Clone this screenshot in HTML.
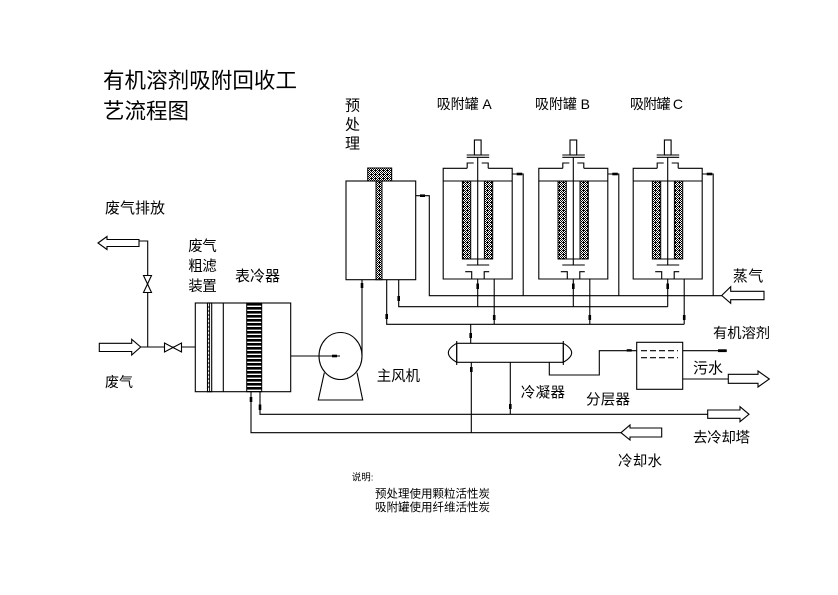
<!DOCTYPE html>
<html><head><meta charset="utf-8">
<style>
html,body{margin:0;padding:0;background:#fff;}
svg{display:block;}
text{font-family:"Liberation Sans","Noto Sans CJK SC",sans-serif;fill:#000;}
</style></head>
<body>
<svg width="838" height="595" viewBox="0 0 838 595" xmlns="http://www.w3.org/2000/svg">
<defs>
<pattern id="st" width="4" height="4" patternUnits="userSpaceOnUse">
<rect width="4" height="4" fill="#fff"/>
<rect x="0" y="0" width="1" height="1" fill="#000"/>
<rect x="2" y="0" width="1" height="1" fill="#000"/>
<rect x="1" y="1" width="1" height="1" fill="#000"/>
<rect x="3" y="1" width="1" height="1" fill="#000"/>
<rect x="0" y="2" width="1" height="1" fill="#000"/>
<rect x="2" y="2" width="2" height="1" fill="#000"/>
<rect x="1" y="3" width="1" height="1" fill="#000"/>
<rect x="3" y="3" width="1" height="1" fill="#000"/>
</pattern>
<pattern id="gr" width="4" height="4" y="303" patternUnits="userSpaceOnUse">
<rect width="4" height="2.6" fill="#000"/>
</pattern>
</defs>

<!-- Titles -->
<text x="103" y="88" font-size="21.5" textLength="194">有机溶剂吸附回收工</text>
<text x="103" y="118.5" font-size="21.5" textLength="86">艺流程图</text>

<text x="345" y="110.5" font-size="15">预</text>
<text x="345" y="129.5" font-size="15">处</text>
<text x="345" y="148.5" font-size="15">理</text>

<text x="436.7" y="109" font-size="14" textLength="55">吸附罐 A</text>
<text x="535" y="109" font-size="14" textLength="55">吸附罐 B</text>
<text x="630" y="109" font-size="14" textLength="53">吸附罐 C</text>

<text x="105" y="213" font-size="15" textLength="60">废气排放</text>
<text x="105" y="387" font-size="14" textLength="28">废气</text>
<text x="188.3" y="251" font-size="14.5" textLength="28.4">废气</text>
<text x="188.3" y="271" font-size="14.5" textLength="28.4">粗滤</text>
<text x="188.3" y="291" font-size="14.5" textLength="28.4">装置</text>
<text x="235" y="281" font-size="15" textLength="45">表冷器</text>
<text x="376.7" y="381" font-size="14.5" textLength="43.3">主风机</text>
<text x="520.7" y="397.5" font-size="14.5" textLength="44.3">冷凝器</text>
<text x="732.7" y="281" font-size="15" textLength="30.6">蒸气</text>
<text x="713" y="338" font-size="14.3" textLength="57">有机溶剂</text>
<text x="693" y="373" font-size="15" textLength="30">污水</text>
<text x="586" y="404.5" font-size="14.5" textLength="44">分层器</text>
<text x="693" y="442.5" font-size="14.5" textLength="57">去冷却塔</text>
<text x="618" y="466" font-size="14.5" textLength="44">冷却水</text>

<text x="351.7" y="480.5" font-size="9.5">说明:</text>
<text x="375" y="497.5" font-size="11.5" textLength="115">预处理使用颗粒活性炭</text>
<text x="375" y="511" font-size="11.5" textLength="115">吸附罐使用纤维活性炭</text>

<g fill="none" stroke="#000" stroke-width="1.1">
<!-- left side arrows -->
<polygon fill="#fff" points="98,243 107,236.5 107,239.5 139,239.5 139,246.5 107,246.5 107,249.5"/>
<polygon fill="#fff" points="99.3,343.3 131.7,343.3 131.7,339.3 140.7,347 131.7,355 131.7,351.5 99.3,351.5"/>
<!-- exhaust line + vertical valve -->
<path d="M139,241 H147.7 V347"/>
<polygon fill="#fff" points="143.5,275.5 151.5,275.5 147.5,284 151.5,292.5 143.5,292.5 147.5,284"/>
<!-- inlet line + horizontal valve -->
<path d="M140.7,347 H195.3"/>
<polygon fill="#fff" points="164.5,343 164.5,352 173,347.5 181.5,352 181.5,343 173,347.5"/>

<!-- filter + cooler box -->
<rect x="195.3" y="303" width="95.4" height="88.7" fill="#fff"/>
<path d="M223.3,303 V391.7"/>
<rect x="207.5" y="303" width="4.2" height="88.7"/>
</g>
<rect x="246.7" y="303" width="15" height="88.7" fill="url(#gr)" stroke="#000" stroke-width="1"/>
<g stroke="#000" stroke-width="0.9">
<path d="M207.5,307H209.6M207.5,311H209.6M207.5,315H209.6M207.5,319H209.6M207.5,323H209.6M207.5,327H209.6M207.5,331H209.6M207.5,335H209.6M207.5,339H209.6M207.5,343H209.6M207.5,347H209.6M207.5,351H209.6M207.5,355H209.6M207.5,359H209.6M207.5,363H209.6M207.5,367H209.6M207.5,371H209.6M207.5,375H209.6M207.5,379H209.6M207.5,383H209.6M207.5,387H209.6"/>
<path d="M209.6,303 V391.7"/>
</g>

<g fill="none" stroke="#000" stroke-width="1.1">
<!-- cooler outlets -->
<path d="M251,391.7 V432.7 H621"/>
<path d="M260,391.7 V414.3 H707.7"/>

<!-- fan -->
<ellipse cx="340.5" cy="356" rx="21.5" ry="23.5" fill="#fff"/>
<path d="M290.7,356 H340"/>
<path d="M324.3,372.7 L318.3,400 H362.7 L357,372.7"/>
<path d="M362,356 V279.7"/>

<!-- pretreatment -->
<rect x="346" y="181" width="69.7" height="98.7" fill="#fff"/>
</g>
<rect x="367.7" y="168" width="24" height="13" fill="url(#st)" stroke="#000" stroke-width="1"/>
<rect x="376" y="181" width="6" height="98.7" fill="url(#st)" stroke="#000" stroke-width="1"/>

<g fill="none" stroke="#000" stroke-width="1.1">
<path d="M415.7,195.7 H429.3 V295.7 H721.7"/>
<path d="M386.7,279.7 V324.3 H684.2"/>
<path d="M398.7,279.7 V306.7 H667.7"/>

<g transform="translate(477.7,0)">
<path d="M-10.5,168.3 H-34.5 V279 H34.5 V168.3 H10.5"/>
<path d="M-10.5,168.3 V163 H-4 M10.5,168.3 V163 H4"/>
<path d="M-34.5,181 H34.5"/>
<path d="M-11,155 H11.5 M-11,157.3 H11.5"/>
<rect x="-3.3" y="140" width="6.7" height="15" fill="#fff"/>
<path d="M0,157.3 V265"/>
<path d="M-15.3,259 H15"/>
<path d="M-11,265 H11.5"/>
<path d="M-12.5,271.7 H-6 V279 M11.5,271.7 H6.5 V279"/>
<path d="M34.5,174 H45.5 V295.7"/>
<path d="M0,279 V306.7"/>
<path d="M16.5,279 V324.3"/>
</g>
<g transform="translate(573.3,0)">
<path d="M-10.5,168.3 H-34.5 V279 H34.5 V168.3 H10.5"/>
<path d="M-10.5,168.3 V163 H-4 M10.5,168.3 V163 H4"/>
<path d="M-34.5,181 H34.5"/>
<path d="M-11,155 H11.5 M-11,157.3 H11.5"/>
<rect x="-3.3" y="140" width="6.7" height="15" fill="#fff"/>
<path d="M0,157.3 V265"/>
<path d="M-15.3,259 H15"/>
<path d="M-11,265 H11.5"/>
<path d="M-12.5,271.7 H-6 V279 M11.5,271.7 H6.5 V279"/>
<path d="M34.5,174 H45.5 V295.7"/>
<path d="M0,279 V306.7"/>
<path d="M16.5,279 V324.3"/>
</g>
<g transform="translate(667.7,0)">
<path d="M-10.5,168.3 H-34.5 V279 H34.5 V168.3 H10.5"/>
<path d="M-10.5,168.3 V163 H-4 M10.5,168.3 V163 H4"/>
<path d="M-34.5,181 H34.5"/>
<path d="M-11,155 H11.5 M-11,157.3 H11.5"/>
<rect x="-3.3" y="140" width="6.7" height="15" fill="#fff"/>
<path d="M0,157.3 V265"/>
<path d="M-15.3,259 H15"/>
<path d="M-11,265 H11.5"/>
<path d="M-12.5,271.7 H-6 V279 M11.5,271.7 H6.5 V279"/>
<path d="M34.5,174 H45.5 V295.7"/>
<path d="M0,279 V306.7"/>
<path d="M16.5,279 V324.3"/>
</g>
</g>

<!-- tank columns -->
<g fill="url(#st)" stroke="#000" stroke-width="1">
<rect x="462.4" y="181" width="8.3" height="78"/>
<rect x="484.4" y="181" width="8.3" height="78"/>
<rect x="558" y="181" width="8.3" height="78"/>
<rect x="580" y="181" width="8.3" height="78"/>
<rect x="652.4" y="181" width="8.3" height="78"/>
<rect x="674.4" y="181" width="8.3" height="78"/>
</g>

<g fill="none" stroke="#000" stroke-width="1.1">
<!-- steam arrow -->
<polygon fill="#fff" points="721.7,295.5 730.7,286.7 730.7,291.3 764,291.3 764,299.7 730.7,299.7 730.7,303.3"/>

<!-- condenser -->
<path d="M470.7,324.3 V343.3"/>
<rect x="456.7" y="343.3" width="106.6" height="19" fill="#fff"/>
<path d="M456.7,341 V365 M563.3,341 V365"/>
<path d="M456.7,343.3 Q440,352.8 456.7,362.3"/>
<path d="M563.3,343.3 Q580,352.8 563.3,362.3"/>
<path d="M471.3,362.3 V432.7"/>
<path d="M510.3,362.3 V414.3"/>
<path d="M549.3,362.3 V375 H599.3 V350.7 H636.7"/>

<!-- separator -->
<rect x="636.7" y="342.3" width="46" height="47" fill="#fff"/>
<path d="M641,350.7 H678 M641,357.7 H678" stroke-dasharray="6,3"/>
<path d="M682.7,350.7 H726.7"/>
<path d="M682.7,379 H728.3"/>
<polygon fill="#fff" points="728.3,374.3 758,374.3 758,371 769.3,379 758,387 758,383.3 728.3,383.3"/>
<polygon fill="#fff" points="707.7,410 740,410 740,406.7 749,414.3 740,421.7 740,418.3 707.7,418.3"/>
<polygon fill="#fff" points="621,432.7 630,425 630,428 661.7,428 661.7,437 630,437 630,440"/>
</g>

<!-- line markers -->
<g fill="#000">
<rect x="332" y="354.7" width="5" height="2.6"/>
<rect x="360.7" y="283" width="2.6" height="5"/>
<rect x="420" y="194.4" width="5" height="2.6"/>
<rect x="385.4" y="314" width="2.6" height="5"/>
<rect x="397.4" y="296" width="2.6" height="5"/>
<rect x="476.4" y="283.5" width="2.6" height="5.5"/>
<rect x="492.9" y="315" width="2.6" height="5"/>
<rect x="572" y="283.5" width="2.6" height="5.5"/>
<rect x="588.5" y="315" width="2.6" height="5"/>
<rect x="666.4" y="283.5" width="2.6" height="5.5"/>
<rect x="682.9" y="315" width="2.6" height="5"/>
<rect x="516.7" y="172.7" width="5.5" height="2.6"/>
<rect x="612.3" y="172.7" width="5.5" height="2.6"/>
<rect x="706.7" y="172.7" width="5.5" height="2.6"/>
<rect x="469.4" y="333" width="2.6" height="5"/>
<rect x="470" y="367" width="2.6" height="5"/>
<rect x="509" y="404" width="2.6" height="5"/>
<rect x="249.7" y="397" width="2.6" height="5"/>
<rect x="258.7" y="404.5" width="2.6" height="5.5"/>
<rect x="626.7" y="349.2" width="5" height="2.4"/>
<rect x="718" y="349.3" width="8.7" height="2.8"/>
</g>
</svg>
</body></html>
